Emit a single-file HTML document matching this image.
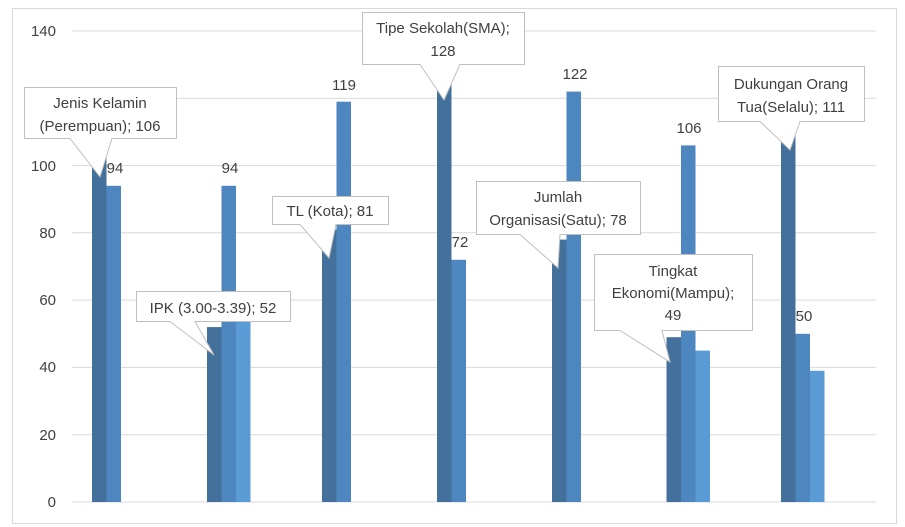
<!DOCTYPE html>
<html><head><meta charset="utf-8"><style>
html,body{margin:0;padding:0;background:#fff;}
svg{display:block;font-family:"Liberation Sans","DejaVu Sans",sans-serif;}
</style></head><body>
<svg width="905" height="527" viewBox="0 0 905 527">
<rect x="12.5" y="8.5" width="884" height="515" fill="#fff" stroke="#d9d9d9"/>
<g stroke="#d9d9d9" stroke-width="1">
<line x1="72" x2="876" y1="502" y2="502"/>
<line x1="72" x2="876" y1="434.7" y2="434.7"/>
<line x1="72" x2="876" y1="367.4" y2="367.4"/>
<line x1="72" x2="876" y1="300.1" y2="300.1"/>
<line x1="72" x2="876" y1="232.8" y2="232.8"/>
<line x1="72" x2="876" y1="165.6" y2="165.6"/>
<line x1="72" x2="876" y1="98.3" y2="98.3"/>
<line x1="72" x2="876" y1="31" y2="31"/>
</g>
<g fill="#404040" font-size="15" text-anchor="end">
<text x="56" y="507">0</text><text x="56" y="440">20</text><text x="56" y="372">40</text>
<text x="56" y="305">60</text><text x="56" y="238">80</text><text x="56" y="171">100</text>
<text x="56" y="103">120</text><text x="56" y="36">140</text>
</g>
<g>
<!-- y = 502 - v*3.364 -->
<rect x="92" y="145.4" width="14.5" height="356.6" fill="#44719b"/>
<rect x="106.5" y="185.8" width="14.5" height="316.2" fill="#4e86bf"/>
<rect x="207" y="327.1" width="14.5" height="174.9" fill="#44719b"/>
<rect x="221.5" y="185.8" width="14.5" height="316.2" fill="#4e86bf"/>
<rect x="236" y="317" width="14.5" height="185" fill="#5b9bd5"/>
<rect x="322" y="229.5" width="14.5" height="272.5" fill="#44719b"/>
<rect x="336.5" y="101.7" width="14.5" height="400.3" fill="#4e86bf"/>
<rect x="437" y="71.4" width="14.5" height="430.6" fill="#44719b"/>
<rect x="451.5" y="259.8" width="14.5" height="242.2" fill="#4e86bf"/>
<rect x="552" y="239.6" width="14.5" height="262.4" fill="#44719b"/>
<rect x="566.5" y="91.6" width="14.5" height="410.4" fill="#4e86bf"/>
<rect x="666.5" y="337.2" width="14.5" height="164.8" fill="#44719b"/>
<rect x="681" y="145.4" width="14.5" height="356.6" fill="#4e86bf"/>
<rect x="695.5" y="350.6" width="14.5" height="151.4" fill="#5b9bd5"/>
<rect x="781" y="128.6" width="14.5" height="373.4" fill="#44719b"/>
<rect x="795.5" y="333.8" width="14.5" height="168.2" fill="#4e86bf"/>
<rect x="810" y="370.8" width="14.5" height="131.2" fill="#5b9bd5"/>
</g>
<g fill="#404040" font-size="15" text-anchor="middle">
<text x="115" y="173">94</text>
<text x="230" y="173">94</text>
<text x="344" y="90">119</text>
<text x="460" y="247">72</text>
<text x="575" y="79">122</text>
<text x="689" y="133">106</text>
<text x="804" y="321">50</text>
</g>
<g fill="#fff" stroke="#bfbfbf" stroke-width="1">
<path d="M24.5 87.5H176.5V138.5H112L100 177L70 138.5H24.5Z"/>
<path d="M136.5 291.5H290.5V321.5H195L214 355L170 321.5H136.5Z"/>
<path d="M272.5 196.5H388.5V224.5H336L329 258L300 224.5H272.5Z"/>
<path d="M362.5 12.5H524.5V64.5H460L444 100L420 64.5H362.5Z"/>
<path d="M476.5 181.5H640.5V234.5H560L558 268L520 234.5H476.5Z"/>
<path d="M594.5 254.5H752.5V330.5H662L670 362L620 330.5H594.5Z"/>
<path d="M718.5 66.5H864.5V121.5H800L790 150L760 121.5H718.5Z"/>
</g>
<g fill="#404040" font-size="15" text-anchor="middle">
<text x="100" y="108">Jenis Kelamin</text><text x="100" y="131">(Perempuan); 106</text>
<text x="213" y="313">IPK (3.00-3.39); 52</text>
<text x="330" y="216">TL (Kota); 81</text>
<text x="443" y="33">Tipe Sekolah(SMA);</text><text x="443" y="56">128</text>
<text x="558" y="202">Jumlah</text><text x="558" y="225">Organisasi(Satu); 78</text>
<text x="673" y="276">Tingkat</text><text x="673" y="298">Ekonomi(Mampu);</text><text x="673" y="320">49</text>
<text x="791" y="89">Dukungan Orang</text><text x="791" y="112">Tua(Selalu); 111</text>
</g>
</svg>
</body></html>
